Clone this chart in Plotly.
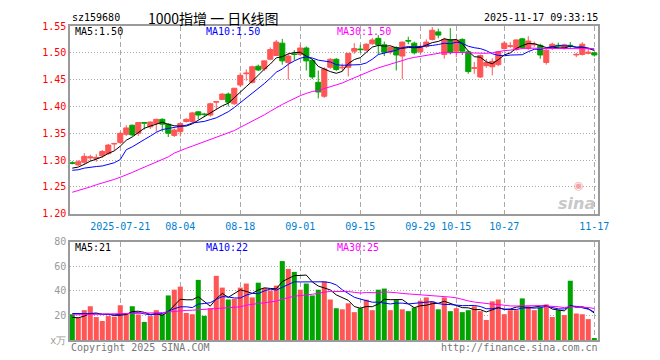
import pandas as pd
import plotly.graph_objects as go

# ---------------- data ----------------
holidays = ["2025-10-01", "2025-10-02", "2025-10-03", "2025-10-06", "2025-10-07", "2025-10-08"]
days = [d.strftime("%Y-%m-%d") for d in pd.bdate_range("2025-07-09", "2025-11-17")
        if d.strftime("%Y-%m-%d") not in holidays]

open_ = [1.295, 1.291, 1.296, 1.304, 1.303, 1.308, 1.312, 1.330, 1.333, 1.348,
         1.365, 1.350, 1.370, 1.362, 1.368, 1.376, 1.367, 1.346, 1.353, 1.372,
         1.372, 1.390, 1.386, 1.384, 1.408, 1.413, 1.423, 1.405, 1.440, 1.461,
         1.445, 1.475, 1.470, 1.488, 1.495, 1.518, 1.482, 1.498, 1.497, 1.509,
         1.486, 1.445, 1.419, 1.473, 1.488, 1.472, 1.473, 1.503, 1.507, 1.505,
         1.517, 1.527, 1.515, 1.502, 1.510, 1.494, 1.523, 1.518, 1.502, 1.512,
         1.525, 1.539, 1.497, 1.524, 1.503, 1.525, 1.502, 1.471, 1.455, 1.476,
         1.474, 1.478, 1.508, 1.512, 1.506, 1.526, 1.508, 1.515, 1.514, 1.482,
         1.508, 1.514, 1.508, 1.514, 1.496, 1.497, 1.499, 1.500]
high = [1.298, 1.300, 1.313, 1.310, 1.311, 1.319, 1.330, 1.332, 1.352, 1.365,
        1.366, 1.371, 1.371, 1.372, 1.377, 1.378, 1.369, 1.359, 1.370, 1.378,
        1.390, 1.391, 1.388, 1.407, 1.409, 1.425, 1.426, 1.434, 1.463, 1.469,
        1.476, 1.478, 1.485, 1.510, 1.524, 1.526, 1.500, 1.505, 1.516, 1.512,
        1.488, 1.467, 1.473, 1.490, 1.490, 1.480, 1.499, 1.518, 1.515, 1.518,
        1.528, 1.533, 1.521, 1.512, 1.512, 1.521, 1.530, 1.521, 1.515, 1.525,
        1.548, 1.545, 1.528, 1.546, 1.526, 1.527, 1.503, 1.483, 1.497, 1.489,
        1.490, 1.503, 1.522, 1.520, 1.525, 1.528, 1.531, 1.521, 1.517, 1.507,
        1.519, 1.519, 1.517, 1.520, 1.500, 1.520, 1.510, 1.501]
low = [1.292, 1.289, 1.291, 1.298, 1.297, 1.304, 1.310, 1.318, 1.330, 1.345,
       1.345, 1.345, 1.357, 1.358, 1.353, 1.353, 1.343, 1.343, 1.344, 1.370,
       1.369, 1.376, 1.380, 1.381, 1.395, 1.412, 1.400, 1.403, 1.436, 1.448,
       1.443, 1.466, 1.466, 1.486, 1.494, 1.478, 1.450, 1.486, 1.494, 1.467,
       1.451, 1.415, 1.416, 1.470, 1.466, 1.466, 1.456, 1.498, 1.500, 1.503,
       1.515, 1.497, 1.494, 1.497, 1.467, 1.451, 1.516, 1.497, 1.498, 1.509,
       1.523, 1.527, 1.489, 1.497, 1.492, 1.496, 1.461, 1.461, 1.453, 1.472,
       1.458, 1.475, 1.506, 1.509, 1.504, 1.508, 1.505, 1.511, 1.489, 1.478,
       1.505, 1.508, 1.506, 1.507, 1.492, 1.495, 1.497, 1.493]
close = [1.294, 1.297, 1.307, 1.306, 1.305, 1.316, 1.328, 1.331, 1.350, 1.360,
         1.347, 1.370, 1.369, 1.371, 1.376, 1.367, 1.350, 1.356, 1.368, 1.376,
         1.388, 1.384, 1.385, 1.405, 1.409, 1.423, 1.408, 1.434, 1.458, 1.462,
         1.474, 1.468, 1.485, 1.506, 1.520, 1.485, 1.494, 1.497, 1.509, 1.485,
         1.455, 1.427, 1.470, 1.488, 1.469, 1.473, 1.499, 1.508, 1.506, 1.516,
         1.524, 1.515, 1.501, 1.510, 1.496, 1.520, 1.522, 1.500, 1.511, 1.520,
         1.542, 1.533, 1.525, 1.500, 1.524, 1.503, 1.465, 1.472, 1.495, 1.482,
         1.484, 1.502, 1.518, 1.513, 1.524, 1.510, 1.522, 1.516, 1.496, 1.505,
         1.516, 1.513, 1.515, 1.512, 1.497, 1.516, 1.501, 1.496]
volume = [21.0, 18.4, 24.3, 27.5, 18.7, 15.5, 19.5, 19.0, 28.3, 21.6,
          27.5, 20.8, 14.7, 19.5, 24.3, 21.0, 36.3, 41.0, 43.5, 22.0,
          21.0, 49.0, 19.7, 26.0, 52.3, 42.7, 33.0, 33.6, 42.7, 46.0,
          34.7, 46.7, 42.4, 40.3, 44.3, 64.3, 57.9, 55.5, 41.0, 46.0,
          36.3, 41.0, 47.7, 33.0, 25.9, 25.0, 29.9, 22.7, 25.9, 32.8,
          24.3, 41.0, 41.9, 24.3, 32.5, 25.0, 23.5, 26.4, 32.0, 34.7,
          31.5, 25.0, 34.7, 23.5, 25.9, 22.7, 24.3, 27.5, 23.5, 16.3,
          31.5, 33.0, 21.0, 24.3, 24.3, 33.9, 27.5, 24.3, 26.4, 29.0,
          18.7, 24.3, 20.3, 48.3, 21.6, 21.0, 17.0, 1.6]

ma5_price_head = [1.285, 1.287, 1.292, 1.298]
ma10_price_head = [1.281, 1.282, 1.285, 1.287, 1.288, 1.289, 1.292, 1.295, 1.301]
ma30_price_head = [1.240, 1.243, 1.247, 1.250, 1.254, 1.257, 1.260, 1.264, 1.268, 1.272,
                   1.277, 1.282, 1.287, 1.292, 1.297, 1.301, 1.306, 1.313, 1.318, 1.322,
                   1.326, 1.330, 1.334, 1.338, 1.342, 1.346, 1.350, 1.355, 1.361]
ma5_vol_head = [18.4, 18.1, 19.5, 21.6]
ma10_vol_head = [21.6, 21.6, 21.8, 21.8, 21.4, 21.0, 20.7, 20.5, 21.0]
ma30_vol_head = [20.5, 20.6, 20.6, 20.7, 20.8, 20.8, 20.9, 21.0, 21.1, 21.1,
                 21.2, 21.3, 21.4, 21.6, 21.9, 22.3, 22.8, 23.4, 23.9, 24.1,
                 24.3, 24.6, 24.7, 24.9, 25.3, 25.6, 25.9, 26.3, 27.0]

tick_dates = ["2025-07-21", "2025-08-04", "2025-08-18", "2025-09-01", "2025-09-15",
              "2025-09-29", "2025-10-15", "2025-10-27", "2025-11-17"]
tick_labels = ["2025-07-21", "08-04", "08-18", "09-01", "09-15", "09-29", "10-15", "10-27", "11-17"]
price_ticks = [1.20, 1.25, 1.30, 1.35, 1.40, 1.45, 1.50, 1.55]
vol_ticks = [0, 20, 40, 60, 80]
vol_ticklabels = ["x万", "20", "40", "60", "80"]


def ma(values, n, head):
    s = pd.Series(values).rolling(n).mean().tolist()
    return head + s[len(head):]


ma5_p = ma(close, 5, ma5_price_head)
ma10_p = ma(close, 10, ma10_price_head)
ma30_p = ma(close, 30, ma30_price_head)
ma5_v = ma(volume, 5, ma5_vol_head)
ma10_v = ma(volume, 10, ma10_vol_head)
ma30_v = ma(volume, 30, ma30_vol_head)

# ---------------- style ----------------
RED = "#ff5555"
GREEN = "#00a300"
MONO = "DejaVu Sans Mono"
GRID = "#aaaaaa"
BORDER = "#9a9a9a"

OFF = 8  # page body margin
W, H = 660, 360
L = 70 - OFF
T = 20.5 - OFF
R = W - (598 - OFF)
B = H - (340.3 - OFF)
PW, PH = W - L - R, H - T - B


def px(x):
    return (x - OFF - L) / PW


def py(y):
    return (H - B - (y - OFF)) / PH


vol_colors = [RED if c >= o else GREEN for o, c in zip(open_, close)]

fig = go.Figure()
fig.add_trace(go.Candlestick(
    x=days, open=open_, high=high, low=low, close=close,
    increasing=dict(line=dict(color=RED, width=1), fillcolor=RED),
    decreasing=dict(line=dict(color=GREEN, width=1), fillcolor=GREEN),
    whiskerwidth=0, showlegend=False, xaxis="x", yaxis="y", hoverinfo="skip"))
for vals, col in [(ma5_p, "#000000"), (ma10_p, "#0000ff"), (ma30_p, "#ff00ff")]:
    fig.add_trace(go.Scatter(x=days, y=vals, mode="lines", line=dict(color=col, width=1),
                             showlegend=False, xaxis="x", yaxis="y", hoverinfo="skip"))

fig.add_trace(go.Bar(x=days, y=volume, marker=dict(color=vol_colors, line=dict(width=0)),
                     showlegend=False, xaxis="x2", yaxis="y2", hoverinfo="skip"))
for vals, col in [(ma5_v, "#000000"), (ma10_v, "#0000ff"), (ma30_v, "#ff00ff")]:
    fig.add_trace(go.Scatter(x=days, y=vals, mode="lines", line=dict(color=col, width=1),
                             showlegend=False, xaxis="x2", yaxis="y2", hoverinfo="skip"))

xcommon = dict(type="category", categoryorder="array", categoryarray=days,
               range=[-0.38, len(days) - 0.38], tickmode="array", tickvals=tick_dates,
               showgrid=True, gridcolor=GRID, gridwidth=1, griddash="5px,3px",
               showline=True, mirror=True, linecolor=BORDER, linewidth=1.5,
               ticks="", zeroline=False)

price_dom = [py(211.7), 1.0]
vol_dom = [0.0, py(240.3)]

fig.update_layout(
    width=W, height=H, margin=dict(l=L, r=R, t=T, b=B),
    paper_bgcolor="white", plot_bgcolor="white",
    boxgap=0.08, boxgroupgap=0.08, bargap=0.16,
    xaxis=dict(**xcommon, anchor="y", domain=[0, 1], ticktext=tick_labels,
               tickfont=dict(family=MONO, size=10, color="#0080d0"), ticklabelstandoff=3,
               rangeslider=dict(visible=False), showticklabels=True),
    yaxis=dict(domain=price_dom, range=[1.20, 1.55], tickmode="array", tickvals=price_ticks,
               tickformat=".2f", tickfont=dict(family=MONO, size=10, color="#ff0000"),
               showgrid=True, gridcolor=GRID, gridwidth=1, griddash="1px,2px",
               showline=True, mirror=True, linecolor=BORDER, linewidth=1.5,
               ticks="", zeroline=False, anchor="x"),
    xaxis2=dict(**xcommon, anchor="y2", domain=[0, 1], matches="x", showticklabels=False),
    yaxis2=dict(domain=vol_dom, range=[0, 80], tickmode="array", tickvals=vol_ticks,
                ticktext=vol_ticklabels, tickfont=dict(family=MONO, size=10, color="#999999"),
                showgrid=True, gridcolor=GRID, gridwidth=1, griddash="1px,2px",
                showline=True, mirror=True, linecolor=BORDER, linewidth=1.5,
                ticks="", zeroline=False, anchor="x2"),
)


def label(x, y, text, color="#000000", size=10, family=MONO, anchor="left"):
    fig.add_annotation(x=px(x), y=py(y), xref="paper", yref="paper", text=text,
                       showarrow=False, xanchor=anchor, yanchor="middle",
                       font=dict(family=family, size=size, color=color))


label(70, 12, "sz159680")
label(213, 12, "1000指增 一 日K线图", size=14, family="Noto Sans CJK SC", anchor="center")
label(600, 12, "2025-11-17 09:33:15", anchor="right")

label(73, 26, "MA5:1.50")
label(204, 26, "MA10:1.50", color="#0000ff")
label(335, 26, "MA30:1.50", color="#ff00ff")
label(73, 246, "MA5:21")
label(204, 246, "MA10:22", color="#0000ff")
label(335, 246, "MA30:25", color="#ff00ff")

label(69, 348, "Copyright 2025 SINA.COM", color="#777777")
label(600, 348, "http://finance.sina.com.cn", color="#777777", anchor="right")

# sina watermark
label(597, 201, "<b><i>sina</i></b>", color="#c8c8c8", size=16, family="DejaVu Sans", anchor="right")
label(579, 183, "◉", color="#f3a5a5", size=11, family="DejaVu Sans", anchor="center")

fig.write_html("out.html")
